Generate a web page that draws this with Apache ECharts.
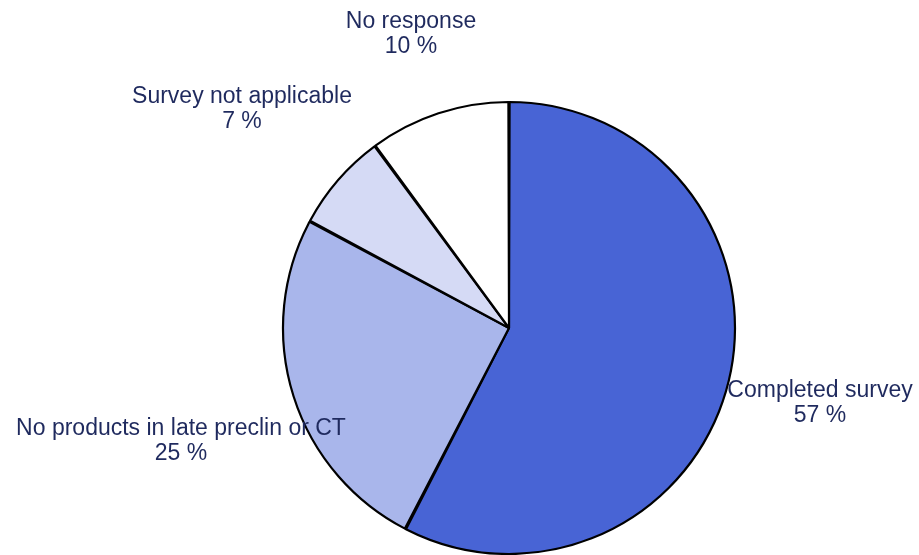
<!DOCTYPE html>
<html>
<head>
<meta charset="utf-8">
<script src="https://cdn.jsdelivr.net/npm/echarts@6/dist/echarts.min.js"></script>
<style>html,body{margin:0;padding:0;background:#fff;}#c{width:919px;height:555px;}</style>
</head>
<body>
<div id="c"></div>
<script>
const categories = ['Completed survey', 'No products in late preclin or CT', 'Survey not applicable', 'No response'];
const values = [57, 25, 7, 10];
const colors = ['#4864D5', '#A9B6EB', '#D5DAF5', '#FFFFFF'];
const labelCenters = [[820, 403], [181, 441], [242, 109], [411, 34]];

const chart = echarts.init(document.getElementById('c'));
chart.setOption({
  animation: false,
  backgroundColor: '#ffffff',
  series: [{
    type: 'pie',
    center: [509, 328],
    radius: 226,
    startAngle: 90,
    clockwise: true,
    padAngle: 0.3,
    avoidLabelOverlap: false,
    data: categories.map((n, i) => ({ name: n, value: values[i], itemStyle: { color: colors[i] } })),
    itemStyle: { borderColor: '#000', borderWidth: 2.2 },
    label: {
      show: true,
      position: 'outside',
      formatter: p => p.name + '\n' + p.value + ' %',
      fontFamily: 'Liberation Sans, Arial, sans-serif',
      fontSize: 23,
      lineHeight: 25,
      color: '#1F2A5E',
      align: 'center'
    },
    labelLine: { show: false },
    labelLayout: function (params) {
      const c = labelCenters[params.dataIndex];
      return { x: c[0], y: c[1], align: 'center', verticalAlign: 'middle' };
    },
    emphasis: { disabled: true }
  }]
});
</script>
</body>
</html>
